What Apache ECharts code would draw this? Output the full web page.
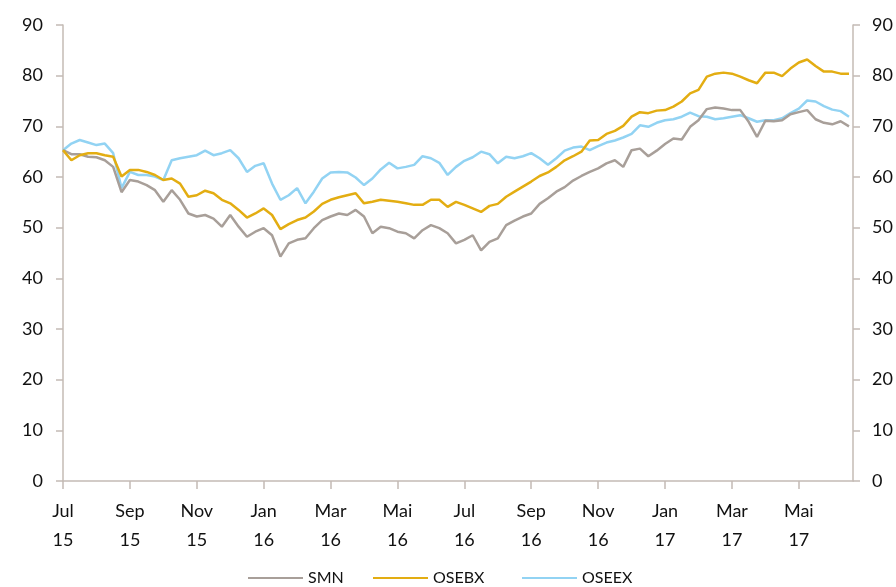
<!DOCTYPE html>
<html>
<head>
<meta charset="utf-8">
<script src="https://cdn.jsdelivr.net/npm/echarts@6/dist/echarts.min.js"></script>
<style>
html,body{margin:0;padding:0;background:#fff;}
#c{width:896px;height:587px;}
</style>
</head>
<body>
<div id="c"></div>
<script>
// x position of each point = index * STEP months after July 2015
const STEP = 0.25;
const X_MAX = 23.62;
const tickLabels = ['Jul\n15','Sep\n15','Nov\n15','Jan\n16','Mar\n16','Mai\n16','Jul\n16','Sep\n16','Nov\n16','Jan\n17','Mar\n17','Mai\n17'];
const seriesNames = ['SMN', 'OSEBX', 'OSEEX'];

const smn = [
  65.3, 64.5, 64.5, 64.0, 63.9, 63.3, 62.0, 57.0, 59.4, 59.1, 58.4, 57.4, 55.1, 57.4, 55.5, 52.8, 52.2, 52.5, 51.8, 50.2, 52.5, 50.2, 48.2, 49.2,
  49.9, 48.5, 44.3, 46.9, 47.6, 47.9, 49.9, 51.5, 52.2, 52.8, 52.5, 53.5, 52.2, 48.9, 50.2, 49.9, 49.2, 48.9, 47.9, 49.5, 50.5, 49.9, 48.9, 46.9,
  47.6, 48.5, 45.5, 47.2, 47.9, 50.5, 51.4, 52.2, 52.8, 54.7, 55.8, 57.1, 58.0, 59.3, 60.2, 61.0, 61.7, 62.7, 63.3, 62.0, 65.3, 65.6, 64.1, 65.2,
  66.5, 67.6, 67.4, 69.9, 71.2, 73.4, 73.7, 73.5, 73.2, 73.2, 70.9, 67.9, 71.1, 71.0, 71.2, 72.4, 72.8, 73.2, 71.4, 70.7, 70.4, 71.0, 70.0
];
const osebx = [
  65.3, 63.3, 64.3, 64.7, 64.7, 64.3, 64.0, 60.1, 61.4, 61.4, 61.0, 60.4, 59.4, 59.7, 58.7, 56.1, 56.4, 57.3, 56.8, 55.5, 54.8, 53.5, 52.0, 52.8,
  53.8, 52.5, 49.7, 50.7, 51.5, 52.0, 53.2, 54.7, 55.5, 56.0, 56.4, 56.8, 54.8, 55.1, 55.5, 55.3, 55.1, 54.8, 54.5, 54.5, 55.5, 55.5, 54.1, 55.1,
  54.5, 53.8, 53.1, 54.3, 54.7, 56.1, 57.1, 58.1, 59.1, 60.2, 60.9, 62.0, 63.3, 64.1, 65.0, 67.2, 67.3, 68.5, 69.1, 70.1, 71.9, 72.8, 72.6, 73.1,
  73.2, 73.9, 74.9, 76.5, 77.2, 79.8, 80.4, 80.6, 80.4, 79.8, 79.1, 78.5, 80.6, 80.6, 79.9, 81.4, 82.6, 83.2, 81.9, 80.8, 80.8, 80.4, 80.4
];
const oseex = [
  65.3, 66.6, 67.3, 66.8, 66.3, 66.6, 64.7, 57.8, 61.0, 60.4, 60.4, 60.1, 59.4, 63.3, 63.7, 64.0, 64.3, 65.2, 64.3, 64.7, 65.3, 63.7, 61.0, 62.2,
  62.7, 58.7, 55.5, 56.4, 57.8, 54.8, 57.1, 59.7, 60.9, 61.0, 60.9, 59.9, 58.4, 59.7, 61.5, 62.8, 61.7, 62.0, 62.4, 64.1, 63.7, 62.8, 60.4, 62.0,
  63.2, 63.9, 65.0, 64.5, 62.7, 64.0, 63.7, 64.1, 64.7, 63.7, 62.4, 63.7, 65.2, 65.8, 66.0, 65.3, 66.1, 66.8, 67.2, 67.8, 68.5, 70.2, 69.9, 70.7,
  71.2, 71.4, 71.9, 72.7, 72.0, 71.9, 71.4, 71.6, 71.9, 72.2, 71.6, 70.9, 71.2, 71.2, 71.6, 72.6, 73.5, 75.1, 74.9, 74.0, 73.3, 73.0, 71.9
];

const colors = ['#a89f99', '#e3ad12', '#92d3f3'];
const axisColor = '#c4bbb5';
const textColor = '#111111';
const FONT = 'Lato, "Open Sans", sans-serif';

function toPairs(arr) { return arr.map((v, i) => [i * STEP, v]); }

const yAxisCommon = {
  type: 'value', min: 0, max: 90, interval: 10,
  axisLine: { show: true, lineStyle: { color: axisColor, width: 1.5 } },
  axisTick: { show: true, inside: false, length: 7, lineStyle: { color: axisColor, width: 1.5 } },
  splitLine: { show: false },
  axisLabel: { color: textColor, fontSize: 18, fontFamily: FONT }
};

const legendLefts = [243, 368, 517];
const legends = seriesNames.map((n, i) => ({
  data: [n],
  left: legendLefts[i], top: 565,
  itemWidth: 55, itemHeight: 2, itemGap: 0,
  icon: 'rect',
  textStyle: { color: textColor, fontSize: 16, fontFamily: FONT }
}));

const chart = echarts.init(document.getElementById('c'), null, { renderer: 'canvas' });
chart.setOption({
  animation: false,
  backgroundColor: '#ffffff',
  color: colors,
  grid: { left: 63, right: 43, top: 25, bottom: 106, containLabel: false },
  legend: legends,
  xAxis: {
    type: 'value', min: 0, max: X_MAX, interval: 2,
    axisLine: { show: true, lineStyle: { color: axisColor, width: 1.5 } },
    axisTick: { show: true, length: 8, lineStyle: { color: axisColor, width: 1.5 } },
    splitLine: { show: false },
    axisLabel: {
      color: textColor, fontSize: 18, fontFamily: FONT, lineHeight: 29, margin: 16,
      showMaxLabel: false,
      formatter: function (v) {
        const k = v / 2;
        return Number.isInteger(k) && tickLabels[k] ? tickLabels[k] : '';
      }
    }
  },
  yAxis: [
    Object.assign({}, yAxisCommon, { position: 'left', axisLabel: Object.assign({}, yAxisCommon.axisLabel, { margin: 20 }) }),
    Object.assign({}, yAxisCommon, { position: 'right', axisLabel: Object.assign({}, yAxisCommon.axisLabel, { margin: 19 }) })
  ],
  series: [
    { name: seriesNames[0], type: 'line', data: toPairs(smn), showSymbol: false, lineStyle: { width: 2.5 }, z: 2 },
    { name: seriesNames[1], type: 'line', data: toPairs(osebx), showSymbol: false, lineStyle: { width: 2.5 }, z: 3 },
    { name: seriesNames[2], type: 'line', data: toPairs(oseex), showSymbol: false, lineStyle: { width: 2.5 }, z: 1 }
  ]
});
</script>
</body>
</html>
